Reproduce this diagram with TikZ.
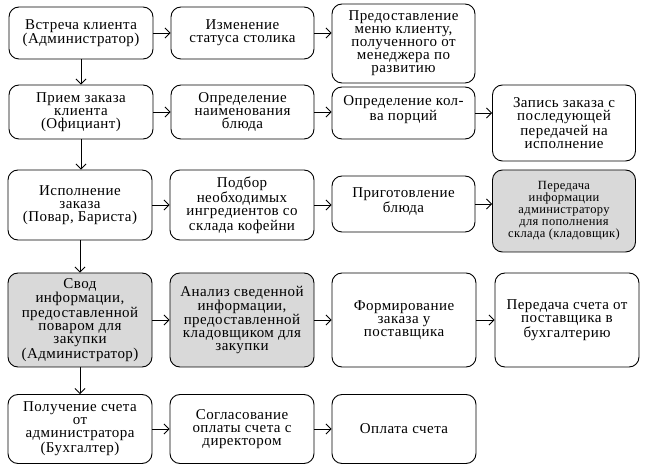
\documentclass[tikz,border=0pt]{standalone}
\usepackage{fontspec}
\setmainfont[LetterSpace=3]{Liberation Serif}
\usetikzlibrary{arrows.meta}

\begin{document}
\begin{tikzpicture}[x=1pt, y=-1pt,
	stage/.style={draw, rounded corners=10pt, line width=0.9pt, align=center, inner sep=0pt,
		font=\fontsize{15}{13}\selectfont, minimum width=143pt},
	stock/.style={stage, fill=black!15},
	flow/.style={-{Straight Barb[length=5pt,width=10pt]}, line width=0.8pt}]
	\useasboundingbox (0,0) rectangle (646,470);
	
	%Row one
	\node[stage, minimum width=144pt, minimum height=52pt] (meet) at (81,33) {Встреча клиента\\(Администратор)};
	\node[stage, minimum height=52pt] (status) at (242.5,33) {Изменение\\статуса столика};
	\node[stage, minimum height=79pt] (menu) at (403.5,43.5) {Предоставление\\меню клиенту,\\полученного от\\менеджера по\\развитию};
	
	%Row two
	\node[stage, minimum width=144pt, minimum height=54pt] (order) at (81,112) {Прием заказа\\клиента\\(Официант)};
	\node[stage, minimum height=54pt] (dish) at (242.5,112) {Определение\\наименования\\блюда};
	\node[stage, minimum height=52pt] (portion) at (403.5,113) {Определение кол-\\ва порций\\[-3pt]};
	\node[stage, minimum height=76pt] (record) at (564,123) {Запись заказа с\\последующей\\передачей на\\исполнение};
	
	%Row three
	\node[stage, minimum width=144pt, minimum height=70pt] (cook) at (80,205) {Исполнение\\заказа\\(Повар, Бариста)};
	\node[stage, minimum width=144pt, minimum height=70pt] (pick) at (242,205) {Подбор\\необходимых\\ингредиентов со\\склада кофейни};
	\node[stage, minimum height=56pt] (prep) at (403.5,204) {Приготовление\\блюда\\[-5pt]};
	\node[stock, minimum height=82pt, font=\fontsize{12.5}{12}\selectfont] (transfer) at (564,211) {Передача\\информации\\администратору\\для пополнения\\склада (кладовщик)};
	
	%Row four
	\node[stock, minimum width=144pt, minimum height=94pt] (summary) at (80,320) {Свод\\информации,\\предоставленной\\поваром для\\закупки\\(Администратор)};
	\node[stock, minimum width=144pt, minimum height=94pt] (analysis) at (242,320) {Анализ сведенной\\информации,\\предоставленной\\кладовщиком для\\закупки};
	\node[stage, minimum width=144pt, minimum height=94pt] (supply) at (404,320) {Формирование\\заказа у\\поставщика};
	\node[stage, minimum width=144pt, minimum height=94pt] (invoice) at (567,320) {Передача счета от\\поставщика в\\бухгалтерию};
	
	%Row five
	\node[stage, minimum width=144pt, minimum height=69pt] (receive) at (80,429) {Получение счета\\от\\администратора\\(Бухгалтер)};
	\node[stage, minimum width=144pt, minimum height=69pt] (approve) at (242,429) {Согласование\\оплаты счета с\\директором};
	\node[stage, minimum width=144pt, minimum height=69pt] (pay) at (404,429) {Оплата счета};
	
	%Arrows along the rows
	\draw[flow] (meet.east) -- (meet.east -| status.west);
	\draw[flow] (status.east) -- (status.east -| menu.west);
	\draw[flow] (order.east) -- (order.east -| dish.west);
	\draw[flow] (dish.east) -- (dish.east -| portion.west);
	\draw[flow] (portion.east) -- (portion.east -| record.west);
	\draw[flow] (cook.east) -- (cook.east -| pick.west);
	\draw[flow] (pick.east) -- (pick.east -| prep.west);
	\draw[flow] (prep.east) -- (prep.east -| transfer.west);
	\draw[flow] (summary.east) -- (summary.east -| analysis.west);
	\draw[flow] (analysis.east) -- (analysis.east -| supply.west);
	\draw[flow] (supply.east) -- (supply.east -| invoice.west);
	\draw[flow] (receive.east) -- (receive.east -| approve.west);
	\draw[flow] (approve.east) -- (approve.east -| pay.west);
	
	%Arrows down the first column
	\draw[flow] (meet.south) -- (meet.south |- order.north);
	\draw[flow] (order.south) -- (order.south |- cook.north);
	\draw[flow] (cook.south) -- (cook.south |- summary.north);
	\draw[flow] (summary.south) -- (summary.south |- receive.north);
\end{tikzpicture}
\end{document}
